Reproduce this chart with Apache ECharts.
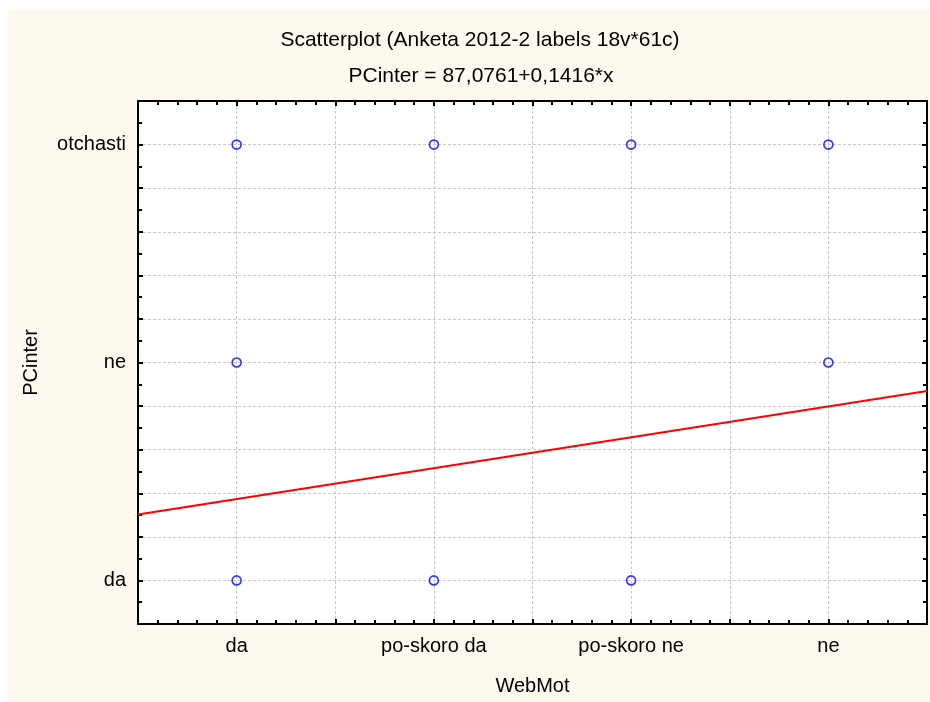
<!DOCTYPE html>
<html>
<head>
<meta charset="utf-8">
<script src="https://cdn.jsdelivr.net/npm/echarts@6/dist/echarts.min.js"></script>
<style>
  html, body { margin: 0; padding: 0; background: #ffffff; }
  #bg { position: absolute; left: 8px; top: 9px; width: 922px; height: 693px; background: #FEF9EE; }
  #chart { position: absolute; left: 0; top: 0; width: 930px; height: 702px; }
</style>
</head>
<body>
<div id="bg"></div>
<div id="chart"></div>
<script>
const titleText = 'Scatterplot (Anketa 2012-2 labels 18v*61c)';
const subtitleText = 'PCinter = 87,0761+0,1416*x';
const xName = 'WebMot';
const yName = 'PCinter';
const xCategories = ['da', 'po-skoro da', 'po-skoro ne', 'ne'];
const yCategories = ['da', 'ne', 'otchasti'];
// category codes (1-based) of observed points
const pointsX = [1, 2, 3, 4, 1, 4, 1, 2, 3];
const pointsY = [3, 3, 3, 3, 2, 2, 1, 1, 1];
// fitted line endpoints
const fitX = [0.5, 4.5];
const fitY = [1.303, 1.869];

const FONT = '"Liberation Sans", Arial, sans-serif';
const chart = echarts.init(document.getElementById('chart'), null, { renderer: 'canvas' });

function catLabel(list) {
  return function (v) {
    const r = Math.round(v);
    if (Math.abs(v - r) < 1e-6 && r >= 1 && r <= list.length) return list[r - 1];
    return '';
  };
}

const axisCommonX = {
  type: 'value', min: 0.5, max: 4.5, interval: 0.5,
  axisLine: { show: true, onZero: false, lineStyle: { color: '#000', width: 2 } },
  axisTick: { show: true, inside: true, length: 5, lineStyle: { color: '#000', width: 2 } },
  minorTick: { show: true, splitNumber: 5, length: 4, lineStyle: { color: '#000', width: 2 } },
};
const axisCommonY = {
  type: 'value', min: 0.8, max: 3.2, interval: 0.2,
  axisLine: { show: true, onZero: false, lineStyle: { color: '#000', width: 2 } },
  axisTick: { show: true, inside: true, length: 5, lineStyle: { color: '#000', width: 2 } },
  minorTick: { show: true, splitNumber: 2, length: 4, lineStyle: { color: '#000', width: 2 } },
};

const option = {
  backgroundColor: 'transparent',
  animation: false,
  title: [
    { text: titleText, left: 475, top: 25, textAlign: 'center',
      textStyle: { fontFamily: FONT, fontSize: 21, fontWeight: 'normal', color: '#000' } },
    { text: subtitleText, left: 476, top: 61, textAlign: 'center',
      textStyle: { fontFamily: FONT, fontSize: 21, fontWeight: 'normal', color: '#000' } }
  ],
  grid: { left: 138, right: 2, top: 101, bottom: 78, show: true, backgroundColor: '#ffffff', borderWidth: 0 },
  xAxis: [
    Object.assign({}, axisCommonX, {
      position: 'bottom',
      name: xName, nameLocation: 'middle', nameGap: 52,
      nameTextStyle: { fontFamily: FONT, fontSize: 20, color: '#000' },
      axisLabel: { show: true, margin: 12, formatter: catLabel(xCategories),
        fontFamily: FONT, fontSize: 20, color: '#000' },
      splitLine: { show: true, lineStyle: { color: '#c8c8c8', width: 1, type: [3, 2] } }
    }),
    Object.assign({}, axisCommonX, {
      position: 'top', axisLabel: { show: false }, splitLine: { show: false }
    })
  ],
  yAxis: [
    Object.assign({}, axisCommonY, {
      position: 'left',
      name: yName, nameLocation: 'middle', nameGap: 97,
      nameTextStyle: { fontFamily: FONT, fontSize: 20, color: '#000' },
      axisLabel: { show: true, margin: 12, formatter: catLabel(yCategories),
        fontFamily: FONT, fontSize: 20, color: '#000' },
      splitLine: { show: true, lineStyle: { color: '#c8c8c8', width: 1, type: [3, 2] } }
    }),
    Object.assign({}, axisCommonY, {
      position: 'right', axisLabel: { show: false }, splitLine: { show: false }
    })
  ],
  series: [
    {
      type: 'line', name: 'fit',
      data: fitX.map((x, i) => [x, fitY[i]]),
      showSymbol: false, symbol: 'none',
      lineStyle: { color: '#ff0000', width: 2 },
      z: 3
    },
    {
      type: 'scatter', name: 'points',
      data: pointsX.map((x, i) => [x, pointsY[i]]),
      symbol: 'circle', symbolSize: 9,
      itemStyle: { color: 'rgba(255,255,255,0)', borderColor: '#0000ff', borderWidth: 1.6 },
      z: 4
    }
  ]
};
chart.setOption(option);
</script>
</body>
</html>
